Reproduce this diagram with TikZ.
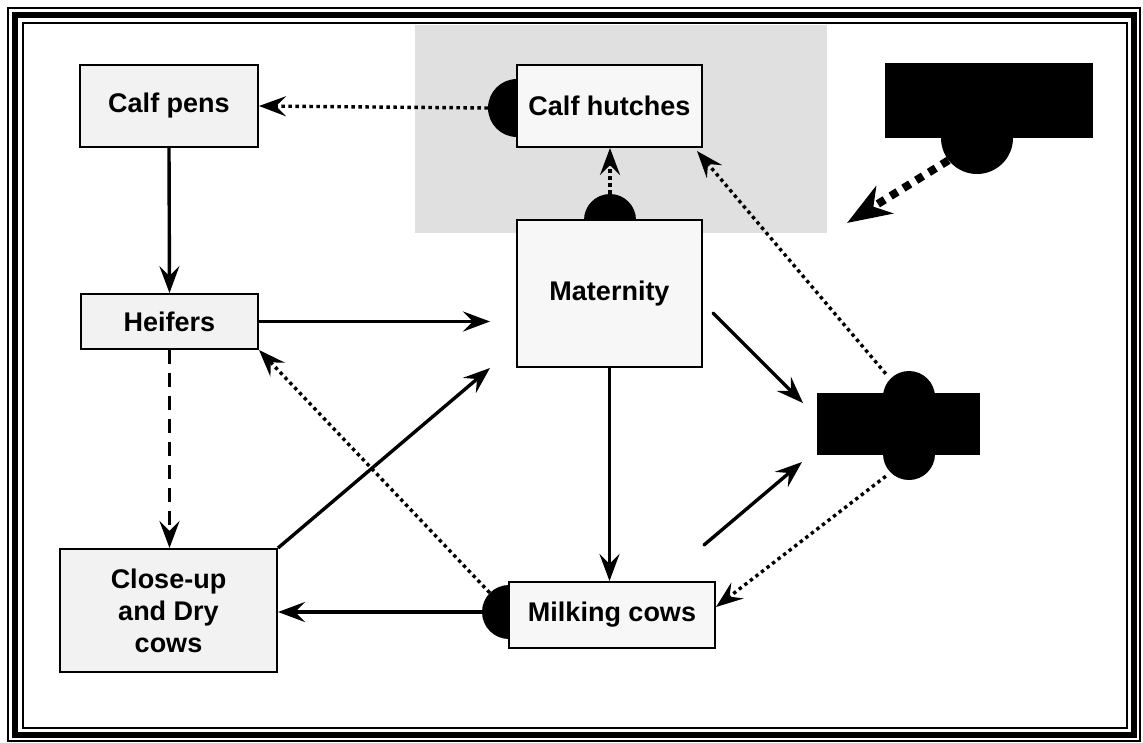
\documentclass[tikz,border=0pt]{standalone}
\usepackage{fontspec}
\setmainfont{Liberation Sans}
\usetikzlibrary{arrows.meta,calc}
\begin{document}
\begin{tikzpicture}[x=1pt,y=-1pt,
  box/.style={draw=black,line width=2pt,fill=black!3,align=center,inner sep=0pt,
    font=\bfseries\fontsize{27}{32}\selectfont},
  lbox/.style={box,fill=black!5},
  blob/.style={circle,fill=black,inner sep=0pt},
  tip/.style={-{Stealth[length=27pt,width=20pt,inset=10pt]}},
  solidarrow/.style={tip,line width=3.4pt},
  dotarrow/.style={tip,line width=3.4pt,dash pattern=on 3.4pt off 3.6pt},
  dasharrow/.style={tip,line width=3.4pt,dash pattern=on 14pt off 9pt},
  bigdash/.style={-{Stealth[length=44pt,width=32pt,inset=13pt]},line width=8pt,dash pattern=on 8pt off 7pt}]
\useasboundingbox (0,0) rectangle (1143,742);
\fill[white] (0,0) rectangle (1143,742);
% frame
\draw[line width=1.5pt] (8,8) rectangle (1140,741);
\draw[line width=6pt] (15,15) rectangle (1134,735);
\draw[line width=2pt] (22.5,23) rectangle (1127,728);
% gray region
\fill[black!12] (415,25) rectangle (827,233);
% blobs (behind boxes)
\node[blob,minimum size=58pt] (hutchdot) at (517,108) {};
\node[blob,minimum size=52pt] (matdot) at (610,220) {};
\node[blob,minimum size=54pt] (milkdot) at (509,612) {};
\node[blob,minimum size=72pt] (topdot) at (977,138) {};
\node[fill=black,rounded corners=26pt,minimum width=52pt,minimum height=109pt,inner sep=0pt] (stad) at (909,425.5) {};
% black boxes
\node[fill=black,minimum width=208pt,minimum height=75pt,inner sep=0pt] (topbox) at (989,100.5) {};
\node[fill=black,minimum width=163pt,minimum height=62pt,inner sep=0pt] (midbox) at (898.5,424) {};
% boxes
\node[lbox,minimum width=178pt,minimum height=82pt] (calfpens) at (169,106) {Calf pens};
\node[box,minimum width=185pt,minimum height=82pt] (hutches) at (609.5,106) {Calf hutches};
\node[box,minimum width=185pt,minimum height=147pt] (maternity) at (609.5,293.5) {Maternity};
\node[lbox,minimum width=177pt,minimum height=55pt] (heifers) at (169.5,321.5) {Heifers};
\node[lbox,minimum width=217pt,minimum height=123pt] (closeup) at (168.5,610.5) {Close-up\\and Dry\\cows};
\node[box,minimum width=206pt,minimum height=66pt] (milking) at (612,615) {Milking cows};
% free ends
\coordinate (hmEnd) at (490,321.5);
\coordinate (cmEnd) at (490,368);
\coordinate (m1Start) at (713,313);
\coordinate (m1End) at (803,403);
\coordinate (m2Start) at (704,545);
\coordinate (m2End) at (802,462);
\coordinate (bigEnd) at (847,223);
% connectors
\draw[dotarrow] (hutchdot.west) -- (calfpens.east);
\draw[dotarrow] (matdot.north) -- (matdot.north |- hutches.south);
\draw[dotarrow] ($(stad.north west)+(3,3)$) -- ($(hutches.south east)+(-6,3)$);
\draw[solidarrow] (calfpens.south) -- (heifers.north);
\draw[solidarrow] (heifers.east) -- (hmEnd);
\draw[dasharrow] (heifers.south) -- (heifers.south |- closeup.north);
\draw[solidarrow] (closeup.north east) -- (cmEnd);
\draw[dotarrow] (milkdot.135) -- (heifers.south east);
\draw[solidarrow] (milkdot.west) -- (milkdot.west -| closeup.east);
\draw[solidarrow] (maternity.south) -- (maternity.south |- milking.north);
\draw[solidarrow,line cap=round] (m1Start) -- (m1End);
\draw[solidarrow,line cap=round] (m2Start) -- (m2End);
\draw[dotarrow] ($(stad.south west)+(3,-4)$) -- ($(milking.east)+(0,-8)$);
\draw[bigdash] (topdot.218) -- (bigEnd);
\end{tikzpicture}
\end{document}
